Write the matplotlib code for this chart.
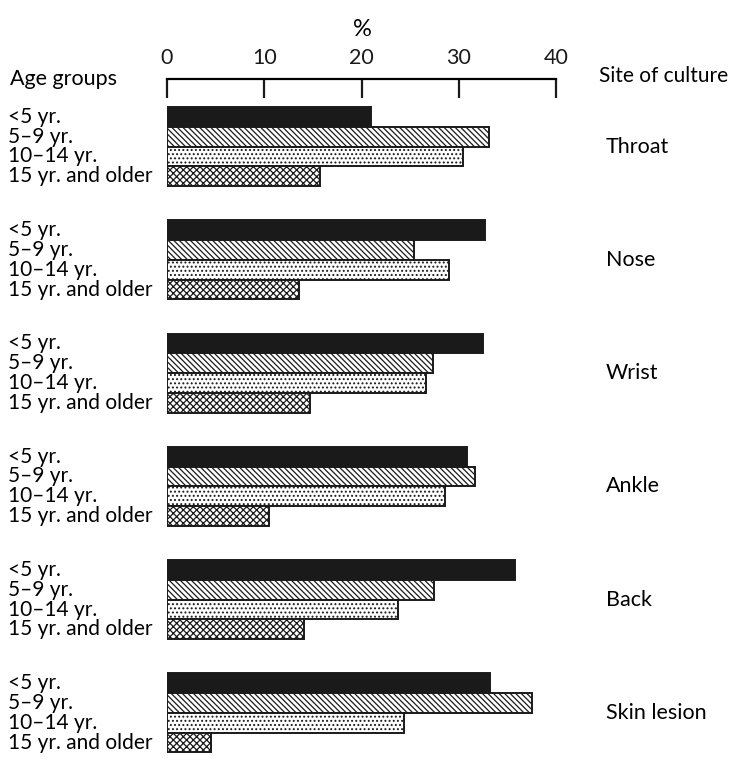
import matplotlib.pyplot as plt

sites = ["Throat", "Nose", "Wrist", "Ankle", "Back", "Skin lesion"]
age_groups = ["<5 yr.", "5\u20139 yr.", "10\u201314 yr.", "15 yr. and older"]

# percent positive, one list per age group (order follows sites)
under5 = [21.0, 32.7, 32.5, 30.8, 35.8, 33.2]
age5_9 = [33.1, 25.4, 27.4, 31.7, 27.5, 37.5]
age10_14 = [30.4, 29.0, 26.6, 28.6, 23.8, 24.4]
age15_up = [15.7, 13.6, 14.7, 10.5, 14.1, 4.5]

series = [under5, age5_9, age10_14, age15_up]
hatches = [None, "\\" * 6, "....", "xxxxx"]
faces = ["#1a1a1a", "white", "white", "white"]

plt.rcParams['font.family'] = ['Lato', 'DejaVu Sans']
plt.rcParams['hatch.linewidth'] = 0.9

W, H = 737, 759
fig = plt.figure(figsize=(W / 100, H / 100), dpi=100)
x0, x1 = 167, 556
ytop = 79
unit = 19.8          # pixels per bar
top_off = (107 - ytop) / unit
ax = fig.add_axes([x0 / W, 0, (x1 - x0) / W, (H - ytop) / H])

step = 5.72
for j, (vals, h, fc) in enumerate(zip(series, hatches, faces)):
    ys = [i * step + j + 0.5 for i in range(len(sites))]
    ax.barh(ys, vals, height=1.0, color=fc, edgecolor="#1a1a1a",
            linewidth=1.4, hatch=h)

ax.set_xlim(0, 40)
ax.set_ylim((H - ytop) / unit - top_off, -top_off)
ax.set_xticks([0, 10, 20, 30, 40])
ax.xaxis.tick_top()
ax.tick_params(axis="x", direction="in", length=14, width=1.6,
               labelsize=15.5, pad=8, colors="#1a1a1a")
ax.set_yticks([])
for s in ["left", "right", "bottom"]:
    ax.spines[s].set_visible(False)
ax.spines["top"].set_linewidth(1.6)
ax.patch.set_alpha(0)

# labels around the plot
fig.text(362 / W, 1 - 30 / H, "%", ha="center", va="center", fontsize=17)
fig.text(10 / W, 1 - 79 / H, "Age groups", ha="left", va="center", fontsize=15.5)
fig.text(599 / W, 1 - 76 / H, "Site of culture", ha="left", va="center", fontsize=15)

for i, site in enumerate(sites):
    ax.annotate(site, xy=(606 / W, i * step + 2.0),
                xycoords=("figure fraction", "data"),
                ha="left", va="center", fontsize=15.5)
    for j, lab in enumerate(age_groups):
        ax.annotate(lab, xy=(8 / W, i * step + j + 0.5),
                    xycoords=("figure fraction", "data"),
                    ha="left", va="center", fontsize=15)

fig.savefig("out.png", dpi=100)
